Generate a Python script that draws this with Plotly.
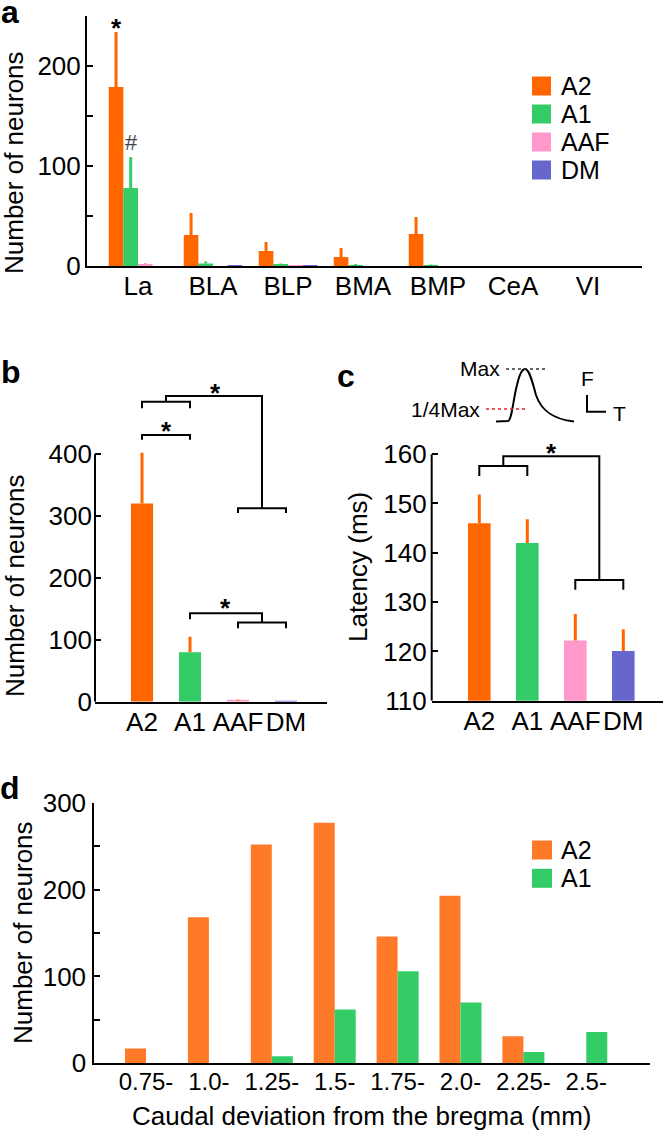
import plotly.graph_objects as go

# ---- data -------------------------------------------------------------
regions = ["La", "BLA", "BLP", "BMA", "BMP", "CeA", "VI"]
areas = ["A2", "A1", "AAF", "DM"]

# panel a: neurons per amygdala subregion (mean, upper error)
a_A2_mean = [179, 31, 15, 9, 32, 0, 0]
a_A2_err = [55, 22, 9, 9, 17, 0, 0]
a_A1_mean = [78, 2.5, 1.5, 1, 1, 0, 0]
a_A1_err = [31, 2, 1, 1, 0.5, 0, 0]
a_AAF_mean = [2, 0, 0.5, 0, 0, 0, 0]
a_AAF_err = [1, 0, 0, 0, 0, 0, 0]
a_DM_mean = [0, 0.5, 0.5, 0, 0, 0, 0]
a_DM_err = [0, 0, 0, 0, 0, 0, 0]

# panel b: total neurons per cortical area
b_mean = [320, 80, 2, 0.5]
b_err = [82, 25, 1, 0]

# panel c: latency (ms)
c_mean = [146, 142, 122.2, 120.1]
c_err = [5.8, 4.8, 5.4, 4.4]

# panel d: distribution along the rostro-caudal axis
bins = ["0.75-", "1.0-", "1.25-", "1.5-", "1.75-", "2.0-", "2.25-", "2.5-"]
d_A2 = [17, 168, 252, 277, 146, 193, 31, 0]
d_A1 = [0, 0, 8, 62, 106, 70, 13, 36]

colors = ["#FF6600", "#33CC66", "#FF99CC", "#6666CC"]
d_colors = ["#FF7A28", "#33CC66"]

# ---- helpers ----------------------------------------------------------
W, H = 665, 1131
FONT = "Liberation Sans, Arial, sans-serif"


def px(x):
    return x / W


def py(y):
    return 1 - y / H


def err(vals, color):
    return dict(type="data", symmetric=False, array=vals, arrayminus=[0] * len(vals),
                thickness=3, width=0, color=color)


fig = go.Figure()

# panel a
a_means = [a_A2_mean, a_A1_mean, a_AAF_mean, a_DM_mean]
a_errs = [a_A2_err, a_A1_err, a_AAF_err, a_DM_err]
bw = 0.195
for k in range(len(areas)):
    fig.add_bar(x=list(range(len(regions))), y=a_means[k], width=bw, offset=-2 * bw + k * bw,
                marker=dict(color=colors[k], line_width=0), error_y=err(a_errs[k], colors[k]),
                name=areas[k], xaxis="x", yaxis="y", showlegend=False)

# panel b
fig.add_bar(x=list(range(4)), y=b_mean, width=0.46, marker=dict(color=colors, line_width=0),
            error_y=err(b_err, colors[0]), xaxis="x2", yaxis="y2", showlegend=False)
# panel c
fig.add_bar(x=list(range(4)), y=c_mean, width=0.47, marker=dict(color=colors, line_width=0),
            error_y=err(c_err, colors[0]), xaxis="x3", yaxis="y3", showlegend=False)

# panel d
dw = 0.334
for k, vals in enumerate([d_A2, d_A1]):
    fig.add_bar(x=list(range(len(bins))), y=vals, width=dw, offset=-dw + k * dw,
                marker=dict(color=d_colors[k], line_width=0), name=areas[k],
                xaxis="x4", yaxis="y4", showlegend=False)

# ---- axes -------------------------------------------------------------
def tf(size=26):
    return dict(size=size, color="black", family=FONT)


def xax(dom, rng, anchor, vals, text, size=26):
    return dict(domain=[px(dom[0]), px(dom[1])], range=rng, anchor=anchor, showgrid=False,
                zeroline=False, showline=True, linecolor="black", linewidth=2, ticks="",
                tickvals=vals, ticktext=text, tickfont=tf(size), ticklabelstandoff=-4,
                automargin=False)


def yax(dom, rng, anchor, vals, text, line=True, standoff=-1):
    return dict(domain=[py(dom[0]), py(dom[1])], range=rng, anchor=anchor, showgrid=False,
                zeroline=False, showline=line, linecolor="black", linewidth=2, ticks="inside",
                ticklen=6, tickwidth=2, tickcolor="black", tickvals=vals, ticktext=text,
                tickfont=tf(), ticklabelstandoff=standoff, automargin=False)


fig.update_layout(
    xaxis=xax([87, 642], [-0.68, 6.72], "y", list(range(len(regions))), regions),
    yaxis=yax([266, 16], [0, 250], "x", [0, 50, 100, 150, 200, 250], ["0", "", "100", "", "200", ""]),
    xaxis2=xax([95, 327], [-0.979, 3.854], "y2", list(range(4)), areas),
    yaxis2=yax([701.7, 376.7], [0, 525], "x2", [0, 100, 200, 300, 400], None, line=False, standoff=2),
    xaxis3=xax([431.7, 663], [-0.992, 3.827], "y3", list(range(4)), areas),
    yaxis3=yax([700.7, 439.4], [110, 163], "x3", [110, 120, 130, 140, 150, 160], None, line=False,
               standoff=4),
    xaxis4=xax([94.3, 650], [-0.822, 8.013], "y4", list(range(len(bins))), bins, size=24),
    yaxis4=yax([1063.3, 802.7], [0, 300], "x4", [0, 50, 100, 150, 200, 250, 300],
               ["0", "", "100", "", "200", "", "300"], standoff=1),
)

# ---- shapes: y axis lines for b/c, brackets, inset, legends -----------
line = dict(color="black", width=2)
shapes = [
    dict(type="line", xref="x2 domain", yref="y2", x0=0, x1=0, y0=0, y1=400, line=line),
    dict(type="line", xref="x3 domain", yref="y3", x0=0, x1=0, y0=110, y1=160, line=line),
]


def path(xref, yref, pts):
    d = "M " + " L ".join(f"{x},{y}" for x, y in pts)
    return dict(type="path", xref=xref, yref=yref, path=d, line=line)


b_paths = [
    [(0, 474), (0, 484.6), (1, 484.6), (1, 474)],
    [(0.5, 484.6), (0.5, 494), (2.5, 494), (2.5, 312.4)],
    [(2, 305), (2, 312.4), (3, 312.4), (3, 305)],
    [(0, 423), (0, 431), (1, 431), (1, 423)],
    [(1, 133), (1, 143), (2.5, 143), (2.5, 128)],
    [(2, 118.6), (2, 128), (3, 128), (3, 118.6)],
]
for p in b_paths:
    shapes.append(path("x2", "y2", p))
c_paths = [
    [(0, 155.6), (0, 157.6), (1, 157.6), (1, 155.6)],
    [(0.5, 157.6), (0.5, 159.6), (2.5, 159.6), (2.5, 134.5)],
    [(2, 132.5), (2, 134.5), (3, 134.5), (3, 132.5)],
]
for p in c_paths:
    shapes.append(path("x3", "y3", p))

# inset: schematic fluorescence transient
curve = [(496, 421.5), (508, 421), (512, 420), (513, 400), (517, 385), (520, 372), (523, 369),
         (525, 369), (529, 369), (532, 380), (536, 395), (541, 410), (552, 419), (574, 421.5)]
cp = [(px(x), py(y)) for x, y in curve]
d = f"M {cp[0][0]},{cp[0][1]} L {cp[1][0]},{cp[1][1]}"
for i in range(2, len(cp) - 1, 3):
    d += f" C {cp[i][0]},{cp[i][1]} {cp[i+1][0]},{cp[i+1][1]} {cp[i+2][0]},{cp[i+2][1]}"
shapes.append(dict(type="path", xref="paper", yref="paper", path=d, line=line))
shapes.append(dict(type="line", xref="paper", yref="paper", x0=px(506), x1=px(547), y0=py(369),
                   y1=py(369), line=dict(color="#333333", width=1.5, dash="dot")))
shapes.append(dict(type="line", xref="paper", yref="paper", x0=px(486), x1=px(527), y0=py(409),
                   y1=py(409), line=dict(color="#E8202A", width=1.5, dash="dot")))
shapes.append(dict(type="path", xref="paper", yref="paper",
                   path=f"M {px(587)},{py(395)} L {px(587)},{py(411.7)} L {px(606)},{py(411.7)}",
                   line=line))

annotations = []


def text(x, y, s, size=26, **kw):
    a = dict(x=px(x), y=py(y), xref="paper", yref="paper", text=s, showarrow=False,
             xanchor="center", yanchor="middle",
             font=dict(size=size, color=kw.pop("color", "black"), family=FONT))
    a.update(kw)
    annotations.append(a)


# legends
for k, name in enumerate(areas):
    yc = 86 + k * 28
    shapes.append(dict(type="rect", xref="paper", yref="paper", x0=px(532), x1=px(551),
                       y0=py(yc + 9.5), y1=py(yc - 9.5), fillcolor=colors[k], line_width=0))
    text(559, yc, name, size=25, xanchor="left")
for k, name in enumerate(areas[:2]):
    yc = 850 + k * 28.3
    shapes.append(dict(type="rect", xref="paper", yref="paper", x0=px(532), x1=px(552),
                       y0=py(yc + 9.5), y1=py(yc - 9.5), fillcolor=d_colors[k], line_width=0))
    text(559, yc, name, size=25, xanchor="left")

# axis titles
text(14, 163, "Number of neurons", textangle=-90)
text(15, 586, "Number of neurons", textangle=-90)
text(358, 567, "Latency (ms)", textangle=-90)
text(23, 933, "Number of neurons", textangle=-90)
text(362, 1116, "Caudal deviation from the bregma (mm)")

# panel letters
text(10, 12, "<b>a</b>", size=32)
text(11, 372, "<b>b</b>", size=32)
text(346, 376, "<b>c</b>", size=32)
text(10, 788, "<b>d</b>", size=32)

# significance marks
text(116.7, 28, "<b>*</b>", size=26)
text(131.7, 143, "#", size=22, color="#444444")
text(215, 393, "<b>*</b>", size=26)
text(166, 431, "<b>*</b>", size=26)
text(225.7, 608, "<b>*</b>", size=26)
text(551.7, 453, "<b>*</b>", size=26)

# inset labels
text(502, 368, "Max", size=21, xanchor="right")
text(482, 409, "1/4Max", size=21, xanchor="right")
text(587, 379, "F", size=21)
text(619, 413, "T", size=21)

fig.update_layout(
    width=W, height=H, margin=dict(l=0, r=0, t=0, b=0),
    plot_bgcolor="white", paper_bgcolor="white", barmode="overlay",
    font=dict(family=FONT, color="black"),
    shapes=shapes, annotations=annotations,
)

# the page body has a default 8px margin; drop it so the figure fills the window
fig.write_html("out.html", config={"displayModeBar": False},
               post_script="document.body.style.margin = '0';")
